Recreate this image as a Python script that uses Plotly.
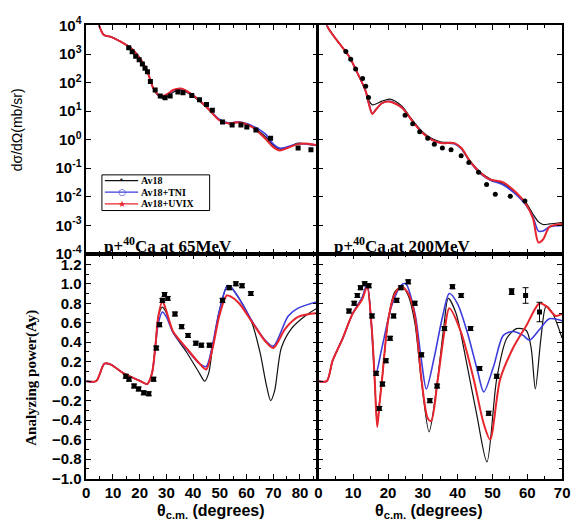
import plotly.graph_objects as go

# ---------------- data: p+40Ca at 65 MeV, cross section ----------------
tl_theta = [3.5, 4.8, 6.6, 9.2, 12.9, 16.6, 20.3, 22.9, 25.1, 27.2, 28.8, 30.5, 32.5, 35.5,
            40, 45, 49.8, 53.5, 57, 62, 67, 70, 72.5, 75, 79.3, 83, 87]
tl_av18 = [25000, 10000, 4600, 4000, 2700, 1660, 660, 240, 63, 33, 28, 32, 46, 54,
           33, 13.5, 4.9, 3.6, 4.0, 2.8, 1.3, 0.63, 0.47, 0.52, 0.76, 0.69, 0.63]
tl_tni = [25000, 10000, 4600, 4000, 2700, 1660, 660, 240, 63, 35, 32, 38, 52, 60,
          35, 14.5, 5.2, 3.8, 4.2, 3.1, 1.6, 0.7, 0.5, 0.55, 0.72, 0.7, 0.64]
tl_uvix = [25000, 10000, 4600, 4000, 2700, 1660, 660, 240, 63, 36, 34, 40, 55, 62,
           36, 14, 4.8, 3.7, 4.1, 2.8, 1.1, 0.55, 0.42, 0.5, 0.7, 0.72, 0.62]
tl_exp_theta = [15.9, 17.2, 18.5, 19.8, 21.0, 22.0, 22.9, 24.0, 25.8, 27.7, 29.5, 31.4, 34.3,
                36.2, 39.5, 42.4, 45, 47.2, 51, 54.6, 57.9, 60.1, 63.5, 69, 79.3, 84.1]
tl_exp = [1660, 1200, 830, 630, 450, 316, 240, 110, 55, 34, 29.5, 34, 47,
          44, 35, 25, 17, 10.7, 4.2, 3.3, 3.3, 2.8, 2.2, 1.12, 0.51, 0.44]

# ---------------- data: p+40Ca at 200 MeV, cross section ----------------
tr_theta = [2.0, 2.7, 5.9, 8.8, 11.6, 13.6, 14.6, 15.5, 16.5, 18.3, 20.6, 24, 26.8, 29.7, 32.5,
            35.3, 39, 41, 43.8, 46.6, 49.4, 53.1, 56.8, 59.6, 61.6, 63.2, 64.5, 66.4, 70]
tr_av18 = [20000, 8700, 2450, 830, 174, 50, 22.4, 16.6, 17.8, 22.4, 26.3, 14.8, 5.2, 2.0, 1.12,
           0.83, 0.76, 0.5, 0.166, 0.071, 0.042, 0.028, 0.0132, 0.0063, 0.0025, 0.00132, 0.00107,
           0.00112, 0.00126]
tr_tni = [20000, 8700, 2450, 830, 174, 50, 16.6, 8.3, 11.2, 19, 21.9, 13.2, 4.8, 1.82, 1.0,
          0.76, 0.72, 0.48, 0.151, 0.063, 0.038, 0.026, 0.012, 0.0052, 0.002, 0.00063, 0.00063,
          0.00089, 0.001]
tr_uvix = [20000, 8700, 2450, 830, 174, 50, 15.8, 7.9, 11.2, 19, 21.4, 13.2, 4.8, 1.82, 1.0,
           0.76, 0.76, 0.52, 0.158, 0.068, 0.040, 0.032, 0.0141, 0.0056, 0.00178, 0.00025,
           0.00032, 0.00089, 0.00112]
tr_exp_theta = [7.9, 9.3, 10.7, 12.7, 13.6, 14.4, 24.9, 27.1, 29.1, 31.4, 33.3, 35.6, 38.1,
                41, 43.2, 46, 48.3, 50.8, 55.1, 59.3]
tr_exp = [1230, 660, 300, 138, 74, 30, 7.2, 3.6, 1.9, 1.12, 0.69, 0.51, 0.44,
          0.275, 0.158, 0.072, 0.027, 0.0123, 0.0105, 0.0071]

# ---------------- data: 65 MeV analyzing power ----------------
bl_av18_theta = [0, 3.7, 6.8, 9.2, 14, 20.3, 22.8, 24.6, 25.8, 27, 28.5, 30, 32.5, 37.5, 42.4,
                 44.3, 45.8, 47.3, 49.8, 52.8, 54, 57.2, 62, 65, 67.5, 69, 70.5, 73, 76.8, 81.9, 87]
bl_av18 = [0, 0, 0.18, 0.17, 0.08, 0.0, -0.03, 0.08, 0.34, 0.67, 0.76, 0.7, 0.5, 0.3, 0.08,
           0.0, 0.08, 0.35, 0.72, 0.98, 0.97, 0.85, 0.6, 0.3, -0.05, -0.2, -0.1, 0.34, 0.54, 0.67, 0.76]
bl_tni_theta = [0, 3.7, 6.8, 9.2, 14, 20.3, 22.8, 24.6, 25.8, 27, 28.5, 30, 32.5, 37.5, 42.4,
                44.9, 47.3, 49.8, 52.8, 54, 57.2, 62, 67, 70, 75.6, 79.3, 87]
bl_tni = [0, 0, 0.18, 0.17, 0.08, 0.0, -0.03, 0.08, 0.34, 0.6, 0.71, 0.66, 0.5, 0.33, 0.18,
          0.15, 0.38, 0.72, 0.98, 0.97, 0.85, 0.62, 0.42, 0.36, 0.67, 0.75, 0.82]
bl_uvix_theta = [0, 3.7, 6.8, 9.2, 14, 20.3, 22.8, 24.6, 25.8, 27, 28.5, 30, 32.5, 37.5, 42.4,
                 44.9, 47.3, 49.8, 52.6, 54, 57.2, 62, 67, 70, 74.5, 79.3, 87]
bl_uvix = [0, 0, 0.18, 0.17, 0.08, 0.0, -0.03, 0.08, 0.34, 0.67, 0.82, 0.72, 0.51, 0.34, 0.18,
           0.12, 0.34, 0.67, 0.88, 0.87, 0.8, 0.61, 0.41, 0.34, 0.54, 0.66, 0.70]
bl_exp_theta = [14.8, 16, 17.9, 19.6, 21.5, 23.4, 25.2, 26.2, 27.4, 28.5, 29.3, 30.5, 33.2,
                35.7, 38.1, 41, 43.1, 46.1, 51, 53.5, 56, 58.3, 61.6]
bl_exp = [0.05, 0.02, -0.05, -0.08, -0.12, -0.13, 0.02, 0.34, 0.58, 0.83, 0.89, 0.85, 0.69,
          0.56, 0.47, 0.39, 0.37, 0.37, 0.83, 0.96, 1.0, 0.98, 0.90]
bl_exp_err = [0.02] * 23

# ---------------- data: 200 MeV analyzing power ----------------
br_av18_theta = [0, 2.4, 4.1, 7.0, 9.8, 12.6, 14.0, 15.4, 16.2, 16.9, 17.6, 18.3, 20.1, 22.0, 24.0,
                 25.8, 27.7, 29.6, 31.8, 34.0, 36.0, 37.3, 39.5, 42.5, 45.5, 48.4, 51.2, 54.1,
                 56.9, 59.7, 61.1, 62.3, 63.9, 65.4, 67.2, 70]
br_av18 = [0, 0, 0.21, 0.44, 0.69, 0.86, 0.98, 0.5, 0.0, -0.45, -0.2, 0.02, 0.64, 0.92, 0.97,
           0.88, 0.6, 0.0, -0.52, -0.05, 0.55, 0.85, 0.7, 0.2, -0.35, -0.83, 0.02, 0.44,
           0.54, 0.52, 0.34, -0.08, 0.44, 0.77, 0.70, 0.44]
br_tni_theta = [0, 2.4, 4.1, 7.0, 9.8, 12.6, 14.0, 15.2, 16.4, 18.3, 21.1, 23.9, 25.1, 27.7,
                29.6, 31.0, 33.3, 35.7, 37.6, 39.9, 42.7, 45.6, 47.5, 50.3, 53.1, 55.9, 58.8,
                60.6, 63.5, 66.3, 70]
br_tni = [0, 0, 0.21, 0.44, 0.69, 0.86, 1.0, 0.6, 0.06, 0.35, 0.78, 0.99, 1.0, 0.70,
          0.21, -0.08, 0.25, 0.67, 0.90, 0.80, 0.51, 0.12, -0.11, 0.15, 0.47, 0.51, 0.47,
          0.42, 0.53, 0.64, 0.62]
br_uvix_theta = [0, 2.4, 4.1, 7.0, 9.8, 12.6, 14.0, 15.4, 16.2, 16.9, 17.6, 18.3, 20.1, 22.0,
                 23.9, 25.8, 27.7, 29.6, 31.4, 32.4, 34.3, 36.2, 37.6, 40.9, 44.6, 47.5, 49.3,
                 52.2, 55.9, 59.7, 63.5, 65.4, 68.2, 70]
br_uvix = [0, 0, 0.21, 0.44, 0.69, 0.84, 0.97, 0.51, 0.0, -0.47, -0.22, 0.02, 0.64, 0.90,
           0.97, 0.90, 0.67, 0.02, -0.38, -0.41, 0.02, 0.51, 0.75, 0.51, 0.02, -0.44, -0.60,
           0.02, 0.34, 0.57, 0.80, 0.77, 0.67, 0.69]
br_exp_theta = [8.8, 10.3, 11.2, 12.1, 13.3, 14.5, 15.4, 16.6, 17.5, 18.4, 19.4, 20.6, 21.6,
                22.5, 23.7, 25.8, 27.7, 29.6, 32.0, 34.1, 36.2, 38.5, 41.0, 43.7, 46.3, 48.9,
                51.2, 55.5, 59.5, 63.5]
br_exp = [0.72, 0.80, 0.88, 0.96, 1.0, 0.98, 0.67, 0.08, -0.28, -0.03, 0.21, 0.44, 0.67,
          0.83, 0.96, 1.02, 0.80, 0.27, -0.20, -0.05, 0.54, 0.97, 0.88, 0.54, 0.13, -0.33,
          0.05, 0.92, 0.88, 0.71]
br_exp_err = [0.02] * 27 + [0.03, 0.08, 0.10]

legend_names = ["Av18", "Av18+TNI", "Av18+UVIX"]
legend_glyphs = ["•", "○", "★"]
decade_vals = [1e-4, 1e-3, 1e-2, 1e-1, 1e0, 1e1, 1e2, 1e3, 1e4]
decade_text = ["10<sup>-4</sup>", "10<sup>-3</sup>", "10<sup>-2</sup>", "10<sup>-1</sup>",
               "10<sup>0</sup>", "10<sup>1</sup>", "10<sup>2</sup>", "10<sup>3</sup>", "10<sup>4</sup>"]

BLACK = "#111111"
BLUE = "#3c3cdc"
RED = "#e8242c"
COLORS = [BLACK, BLUE, RED]

fig = go.Figure()


def curve(x, y, color, width, xa, ya):
    fig.add_trace(go.Scatter(x=x, y=y, mode="lines", xaxis=xa, yaxis=ya, showlegend=False,
                             line=dict(color=color, width=width, shape="spline", smoothing=0.8)))


def data(x, y, symbol, xa, ya, err=None):
    kw = {}
    if err is not None:
        kw["error_y"] = dict(type="data", array=err, visible=True, color="black",
                             thickness=1, width=3)
    fig.add_trace(go.Scatter(x=x, y=y, mode="markers", xaxis=xa, yaxis=ya, showlegend=False,
                             marker=dict(symbol=symbol, size=5, color="black"), **kw))


# top-left
curve(tl_theta, tl_av18, BLACK, 1.2, "x", "y")
curve(tl_theta, tl_tni, BLUE, 1.6, "x", "y")
curve(tl_theta, tl_uvix, RED, 2.0, "x", "y")
data(tl_exp_theta, tl_exp, "square", "x", "y")
# top-right
curve(tr_theta, tr_av18, BLACK, 1.2, "x2", "y2")
curve(tr_theta, tr_tni, BLUE, 1.6, "x2", "y2")
curve(tr_theta, tr_uvix, RED, 2.0, "x2", "y2")
data(tr_exp_theta, tr_exp, "circle", "x2", "y2")
# bottom-left
curve(bl_av18_theta, bl_av18, BLACK, 1.2, "x3", "y3")
curve(bl_tni_theta, bl_tni, BLUE, 1.6, "x3", "y3")
curve(bl_uvix_theta, bl_uvix, RED, 2.0, "x3", "y3")
data(bl_exp_theta, bl_exp, "square", "x3", "y3", bl_exp_err)
# bottom-right
curve(br_av18_theta, br_av18, BLACK, 1.2, "x4", "y4")
curve(br_tni_theta, br_tni, BLUE, 1.6, "x4", "y4")
curve(br_uvix_theta, br_uvix, RED, 2.0, "x4", "y4")
data(br_exp_theta, br_exp, "square", "x4", "y4", br_exp_err)

W, H = 578, 527
xl = [84 / W, 320 / W]
xr = [321 / W, 570 / W]
yt = [1 - 252 / H, 1 - 15 / H]
yb = [1 - 485 / H, 1 - 252 / H]

tickfont = dict(family="Liberation Sans", size=15, color="black", weight="bold")
base = dict(showline=True, linecolor="black", linewidth=1.5, mirror="ticks", ticks="inside",
            ticklen=5, tickcolor="black", tickwidth=1, showgrid=False, zeroline=False,
            tickfont=tickfont, ticklabeloverflow="allow")
xminor = dict(ticks="inside", ticklen=3, dtick=5, tickcolor="black", showgrid=False)

fig.update_layout(
    width=W, height=H, margin=dict(l=0, r=0, t=0, b=0),
    paper_bgcolor="white", plot_bgcolor="white", showlegend=False,
    xaxis=dict(base, domain=xl, anchor="y", range=[0, 86.5], dtick=10, tick0=0,
               showticklabels=False, minor=xminor),
    xaxis2=dict(base, domain=xr, anchor="y2", range=[0, 70], dtick=10, tick0=0,
                showticklabels=False, minor=xminor),
    xaxis3=dict(base, domain=xl, anchor="y3", range=[0, 86.5], dtick=10, tick0=0, minor=xminor),
    xaxis4=dict(base, domain=xr, anchor="y4", range=[0, 70], dtick=10, tick0=0, minor=xminor),
    yaxis=dict(base, domain=yt, anchor="x", type="log", range=[-4, 4],
               tickvals=decade_vals, ticktext=decade_text),
    yaxis2=dict(base, domain=yt, anchor="x2", type="log", range=[-4, 4],
                tickvals=decade_vals, showticklabels=False),
    yaxis3=dict(base, domain=yb, anchor="x3", range=[-1.0, 1.307], dtick=0.2, tick0=-1.0,
                tickformat=".1f",
                minor=dict(ticks="inside", ticklen=3, dtick=0.1, tickcolor="black")),
    yaxis4=dict(base, domain=yb, anchor="x4", range=[-1.0, 1.307], dtick=0.2, tick0=-1.0,
                showticklabels=False,
                minor=dict(ticks="inside", ticklen=3, dtick=0.1, tickcolor="black")),
)


# ---- hand-drawn compact legend (box, line samples, symbols, labels) ----
def px(x):
    return x / W


def py(y):
    return 1 - y / H


fig.add_shape(type="rect", xref="paper", yref="paper", x0=px(100), x1=px(210), y0=py(207),
              y1=py(170), line=dict(color="black", width=1), fillcolor="white", layer="above")
leg_rows = [176, 188, 200]
for name, glyph, color, yy in zip(legend_names, legend_glyphs, COLORS, leg_rows):
    fig.add_shape(type="line", xref="paper", yref="paper", x0=px(103), x1=px(137),
                  y0=py(yy), y1=py(yy), line=dict(color=color, width=1.3), layer="above")
    fig.add_annotation(text=glyph, x=px(120), y=py(yy), xref="paper", yref="paper",
                       xanchor="center", yanchor="middle", showarrow=False,
                       font=dict(family="DejaVu Sans", size=9 if glyph != "•" else 8, color=color))
    fig.add_annotation(text=name, x=px(138), y=py(yy), xref="paper", yref="paper",
                       xanchor="left", yanchor="middle", showarrow=False,
                       font=dict(family="Liberation Serif", size=10, color="black",
                                 weight="bold"))

ann_serif = dict(family="Liberation Serif", size=17, color="black", weight="bold")
fig.add_annotation(text="p+<sup>40</sup>Ca at 65MeV", x=px(100), y=py(243), xref="paper",
                   yref="paper", xanchor="left", yanchor="middle", showarrow=False, font=ann_serif)
fig.add_annotation(text="p+<sup>40</sup>Ca at 200MeV", x=px(335), y=py(243), xref="paper",
                   yref="paper", xanchor="left", yanchor="middle", showarrow=False, font=ann_serif)
xt_font = dict(family="Liberation Sans", size=16, color="black", weight="bold")
for cx in (211, 434):
    fig.add_annotation(text="θ<sub>c.m.</sub> (degrees)", x=px(cx), y=py(519), xref="paper",
                       yref="paper", xanchor="center", yanchor="middle", showarrow=False,
                       font=xt_font)
fig.add_annotation(text="dσ/dΩ(mb/sr)", x=px(13), y=py(123), xref="paper", yref="paper",
                   xanchor="center", yanchor="middle", showarrow=False, textangle=-90,
                   font=dict(family="Liberation Sans", size=14, color="black"))
fig.add_annotation(text="Analyzing power(Ay)", x=px(28), y=py(380), xref="paper",
                   yref="paper", xanchor="center", yanchor="middle", showarrow=False,
                   textangle=-90,
                   font=dict(family="Liberation Serif", size=15, color="black", weight="bold"))

fig.write_html(
    "out.html", config={"displayModeBar": False},
    post_script=("document.body.style.margin='0';"
                 "document.body.style.overflow='hidden';"
                 "document.documentElement.style.overflow='hidden';"))
